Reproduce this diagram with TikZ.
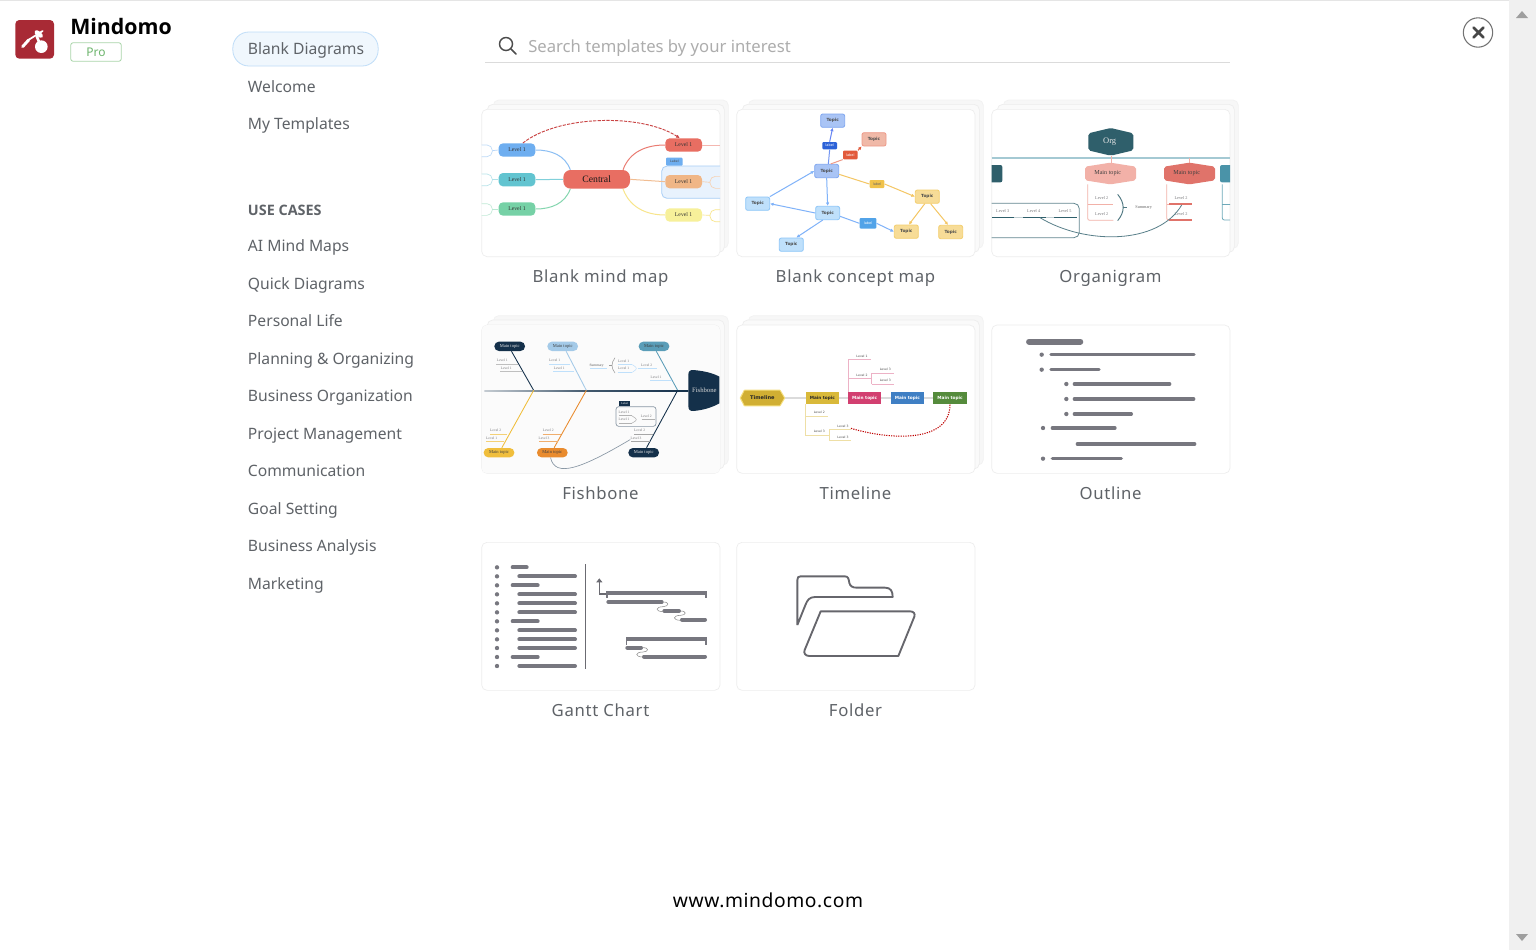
\documentclass[tikz,border=0pt]{standalone}
\usepackage{fontspec}
\setmainfont{Noto Sans}
\newfontfamily\headfont{Open Sans}
\newfontfamily\thumbserif{Liberation Serif}
\newfontfamily\thumbsans{DejaVu Sans}
\newfontfamily\cardfont[LetterSpace=4]{Noto Sans}
\newfontfamily\webfont[LetterSpace=3]{Noto Sans}
\newcommand{\tfnt}[1]{\fontsize{#1}{#1}\selectfont\thumbserif}
\newcommand{\sfnt}[1]{\fontsize{#1}{#1}\selectfont\thumbsans}
\usetikzlibrary{arrows.meta,calc}
\definecolor{txt}{HTML}{5F6368}
\definecolor{cardline}{HTML}{EDEDED}
\definecolor{bar}{HTML}{77777F}
\definecolor{mred}{HTML}{E86E62}
\definecolor{mblue}{HTML}{6EAEF0}
\definecolor{mteal}{HTML}{62C4D0}
\definecolor{mgreen}{HTML}{76D1A6}
\definecolor{mora}{HTML}{F0B686}
\definecolor{myel}{HTML}{F7F09A}
\definecolor{cb}{HTML}{A9C4F5}
\definecolor{cbd}{HTML}{7FA6F0}
\definecolor{cl}{HTML}{BFE0FB}
\definecolor{cld}{HTML}{8DC6F8}
\definecolor{cy}{HTML}{F7DC97}
\definecolor{cyd}{HTML}{F3CE6E}
\definecolor{cr}{HTML}{F0B9A8}
\definecolor{crd}{HTML}{EE9988}
\definecolor{orgd}{HTML}{2F5F6B}
\definecolor{orgp}{HTML}{F2B1A8}
\definecolor{orgr}{HTML}{E0736A}
\definecolor{orgb}{HTML}{4A93A8}
\definecolor{navy}{HTML}{14304A}
\definecolor{lvtxt}{HTML}{77777A}
\definecolor{tla}{HTML}{D1AF33}
\definecolor{tlb}{HTML}{D9B93A}
\definecolor{tlc}{HTML}{D23F70}
\definecolor{tld}{HTML}{3F7FC4}
\definecolor{tle}{HTML}{558B3C}
\definecolor{tlf}{HTML}{F5DF80}
\definecolor{logor}{HTML}{A82A35}
\definecolor{prog}{HTML}{A9D5A9}
\definecolor{prot}{HTML}{6DB56D}
\definecolor{actd}{HTML}{BFDDF8}
\definecolor{actf}{HTML}{F0F7FD}
\definecolor{dashr}{HTML}{C94444}
\definecolor{lab1}{HTML}{2C62D8}
\definecolor{lab2}{HTML}{E2593A}
\definecolor{lab3}{HTML}{F0C24A}
\definecolor{lab4}{HTML}{52A3E8}
\definecolor{fb2}{HTML}{A4CAE8}
\definecolor{fb3}{HTML}{5A9DB8}
\definecolor{fb4}{HTML}{F0BE3C}
\definecolor{fb5}{HTML}{E98B2E}
\definecolor{fold}{HTML}{66666C}
\tikzset{
  x=.75pt,y=-.75pt,
  z/.style 2 args={shift={(#1,#2)},x=.25pt,y=-.25pt},
  sidetext/.style={anchor=base west,inner sep=0pt,text=txt,font=\fontsize{11.75}{14}\selectfont},
  cardlabel/.style={inner sep=0pt,anchor=base,text=txt,font=\fontsize{12.55}{15}\selectfont\cardfont},
  cardface/.style={draw=cardline,fill=white,line width=.5pt,rounded corners=4pt},
  bx/.style n args={3}{minimum width=#1*.25pt,minimum height=#2*.25pt,inner sep=0pt,fill=#3},
  lv/.style={inner sep=0pt,text=lvtxt,font={\tfnt{3.2}}},
  pill/.style={rounded corners=3.2pt,text=black!80,font={\tfnt{4.3}}},
  topic/.style n args={2}{minimum width=18pt,minimum height=10pt,inner sep=0pt,fill=#1,draw=#2,line width=.6pt,rounded corners=1.5pt,text=black!70,font={\sfnt{3.2}\bfseries}},
  lab/.style n args={3}{bx={#1}{#2}{#3},rounded corners=.8pt,text=white,font={\sfnt{2.6}}},
  tip/.style={-{Latex[length=2.6pt,width=2.6pt]}},
  bb/.style={line width=2.5pt,draw=bar,line cap=round},
}
\newcommand{\stack}[2]{%
  \draw[cardface,draw=cardline!70,fill=white!97!black] (55,#1-28) rectangle (760,#2-25);
  \draw[cardface,fill=white!98!black] (37,#1-15) rectangle (748,#2-13);
  \draw[cardface] (20,#1) rectangle (735,#2);
}
\begin{document}
\begin{tikzpicture}
\fill[white] (0,0) rectangle (1536,950);
\useasboundingbox (0,0) rectangle (1536,950);
\fill[black!10] (0,0) rectangle (1510,1);
\fill[black!6] (1509,0) rectangle (1536,950);
\fill[black!38] (1516,18) -- (1522,11) -- (1528,18) -- cycle;
\fill[black!38] (1516,934) -- (1522,941) -- (1528,934) -- cycle;

% logo
\begin{scope}[z={0}{0}]
\fill[rounded corners=3pt,logor] (46,60) rectangle (162,176);
\fill[white] (124,140) circle (19);
\fill[white,rotate around={-40:(116,102)}] (116,102) ellipse (15 and 8);
\draw[white,line width=2.2pt,line cap=round] (68,140) -- (86,120);
\draw[white,line width=1.3pt,line cap=round] (85,120) -- (128,93);
\draw[white,line width=2pt] (110,108) -- (118,128);
\end{scope}
\node[anchor=base west,inner sep=0pt,font=\fontsize{16}{20}\selectfont\headfont\bfseries] (brand) at (70,34.5) {Mindomo};
\node[draw=prog,rounded corners=2pt,line width=.6pt,minimum width=38pt,minimum height=14pt,inner sep=0pt,text=prot,font=\fontsize{9}{10}\selectfont] (pro) at (96,52) {Pro};

% sidebar
\node[draw=actd,fill=actf,rounded corners=12pt,line width=.6pt,minimum width=109pt,minimum height=25.5pt,inner sep=0pt] (active) at (305.5,49) {};
\node[sidetext] (s1) at (247.7,54.8) {Blank Diagrams};
\node[sidetext] (s2) at (247.7,92.3) {Welcome};
\node[sidetext] (s3) at (247.7,129.8) {My Templates};
\node[sidetext,font=\fontsize{10.8}{14}\selectfont\headfont\bfseries] (s4) at (247.7,215.3) {USE CASES};
\node[sidetext] (s5) at (247.7,251.8) {AI Mind Maps};
\node[sidetext] (s6) at (247.7,289.3) {Quick Diagrams};
\node[sidetext] (s7) at (247.7,326.8) {Personal Life};
\node[sidetext] (s8) at (247.7,364.3) {Planning \& Organizing};
\node[sidetext] (s9) at (247.7,401.8) {Business Organization};
\node[sidetext] (s10) at (247.7,439.3) {Project Management};
\node[sidetext] (s11) at (247.7,476.8) {Communication};
\node[sidetext] (s12) at (247.7,514.3) {Goal Setting};
\node[sidetext] (s13) at (247.7,551.8) {Business Analysis};
\node[sidetext] (s14) at (247.7,589.3) {Marketing};

% search
\draw[black!70,line width=1.1pt] (506,44) circle (6.5);
\draw[black!70,line width=1.2pt,line cap=round] (511,49) -- (516,54);
\node[anchor=base west,inner sep=0pt,text=black!32,font=\fontsize{12.5}{15}\selectfont] (search) at (528,52) {Search templates by your interest};
\draw[black!14,line width=.6pt] (485,62.5) -- (1230,62.5);

% close
\node[circle,draw=black!55,fill=white,line width=.8pt,minimum size=22pt,inner sep=0pt] (close) at (1478,32.5) {};
\draw[black!72,line width=1.9pt,line cap=round] (1473.5,27.5) -- (1483.5,37.5) (1483.5,27.5) -- (1473.5,37.5);

% ---------- mind map
\begin{scope}[z={475}{95}]
\stack{43}{485}
\begin{scope}
\clip[rounded corners=4pt] (20,43) rectangle (735,485);
\draw[fill=mblue!16,draw=mblue!60,line width=.6pt,rounded corners=4pt] (560,213) rectangle (780,310);
\node[pill,bx={200}{56}{mred},rounded corners=5.5pt,font={\tfnt{7.3}},text=black!90] (mc) at (365,253) {Central};
\node[pill,bx={110}{40}{mblue}] (ml1) at (126,165) {Level 1};
\node[pill,bx={110}{40}{mteal}] (ml2) at (126,254) {Level 1};
\node[pill,bx={110}{40}{mgreen}] (ml3) at (126,342) {Level 1};
\node[pill,bx={110}{40}{mred}] (mr1) at (626,150) {Level 1};
\node[pill,bx={110}{40}{mora}] (mr2) at (626,260) {Level 1};
\node[pill,bx={110}{40}{myel}] (mr3) at (626,360) {Level 1};
\node[lab={50}{24}{mblue},text=black!70,font={\sfnt{2.4}}] (mlab) at (598,200) {Label};
\draw[mblue!80,line width=.75pt] (ml1.east) to[out=0,in=110] (mc.160);
\draw[mteal!80,line width=.75pt] (ml2.east) -- (mc.west);
\draw[mgreen!90,line width=.75pt] (ml3.east) to[out=0,in=-110] (mc.200);
\draw[mred!90,line width=.75pt] (mc.20) to[out=70,in=180] (mr1.west);
\draw[mora!90,line width=.75pt] (mc.east) -- (mr2.west);
\draw[myel!90!orange,line width=.75pt] (mc.-20) to[out=-70,in=180] (mr3.west);
\draw[mred!50,line width=.6pt] (mr1.east) -- (735,150);
\draw[mblue!45,fill=white,line width=.5pt,rounded corners=4pt] (-20,150) rectangle (52,185);
\draw[mteal!45,fill=white,line width=.5pt,rounded corners=4pt] (-20,237) rectangle (52,272);
\draw[mgreen!45,fill=white,line width=.5pt,rounded corners=4pt] (-20,326) rectangle (52,361);
\draw[mblue!50,line width=.5pt] (52,167) -- (ml1.west);
\draw[mteal!50,line width=.5pt] (52,254) -- (ml2.west);
\draw[mgreen!50,line width=.5pt] (52,342) -- (ml3.west);
\draw[mora!70,line width=.5pt] (mr2.east) -- (705,262);
\draw[mora!60,line width=.5pt,rounded corners=4pt] (790,244) -- (705,244) -- (705,280) -- (790,280);
\draw[myel!90!orange,line width=.5pt] (mr3.east) -- (705,361);
\draw[myel!90!orange,line width=.5pt,rounded corners=4pt] (790,344) -- (705,344) -- (705,380) -- (790,380);
\draw[tip,dash pattern=on 2.4pt off .9pt,draw=dashr,line width=.7pt] (ml1.50) .. controls (250,60) and (500,55) .. (mr1.120);
\end{scope}
\end{scope}
\node[cardlabel] (c1) at (600.5,282) {Blank mind map};

% ---------- concept map
\begin{scope}[z={730}{95}]
\stack{43}{485}
\node[topic={cb}{cbd}] (t1) at (308,77) {Topic};
\node[topic={cr}{crd}] (t2) at (432,133) {Topic};
\node[topic={cb}{cbd}] (t3) at (290,228) {Topic};
\node[topic={cy}{cyd}] (t4) at (592,305) {Topic};
\node[topic={cl}{cld}] (t5) at (83,326) {Topic};
\node[topic={cl}{cld}] (t6) at (293,354) {Topic};
\node[topic={cy}{cyd}] (t7) at (529,410) {Topic};
\node[topic={cy}{cyd}] (t8) at (662,411) {Topic};
\node[topic={cl}{cld}] (t9) at (184,449) {Topic};
\node[lab={44}{22}{lab1}] (l1) at (299,152) {label};
\node[lab={44}{26}{lab2}] (l2) at (361,180) {label};
\node[lab={44}{24}{lab3},text=black!60] (l3) at (441,267) {label};
\node[lab={50}{32}{lab4}] (l4) at (414,385) {label};
\begin{scope}[line width=.75pt]
\draw[draw=cbd!90!blue] (t3.north) ++(5,0) -- (l1.south);
\draw[tip,draw=cbd!80!blue] (l1.north) -- (t1.south);
\draw[draw=crd] (t3.60) -- (l2.south west);
\draw[tip,draw=lab2] (l2.north east) -- (t2.south west);
\draw[draw=cyd!90!orange] (t3.-15) -- (l3.west);
\draw[tip,draw=cyd!90!orange] (l3.east) -- (t4.west);
\draw[tip,draw=cld!90!blue] (t3.south) -- (t6.north);
\draw[tip,draw=cld!90!blue] (t5.30) -- (t3.west);
\draw[tip,draw=cld!90!blue] (t6.west) -- (t5.east);
\draw[draw=cld!90!blue] (t6.-15) -- (l4.west);
\draw[tip,draw=cld!90!blue] (l4.east) -- (t7.west);
\draw[tip,draw=cld!90!blue] (t6.-125) -- (t9.55);
\draw[tip,draw=cyd!90!orange] (t4.-110) -- (t7.70);
\draw[tip,draw=cyd!90!orange] (t4.-65) -- (t8.110);
\end{scope}
\end{scope}
\node[cardlabel] (c2) at (855.5,282) {Blank concept map};

% ---------- organigram
\begin{scope}[z={985}{95}]
\stack{43}{485}
\begin{scope}
\clip[rounded corners=4pt] (20,43) rectangle (735,485);
\draw[draw=orgb!50,line width=1.3pt] (20,188) -- (735,188);
\draw[orgp,line width=.4pt] (378,182) -- (378,203);
\draw[orgp,line width=.4pt] (613,188) -- (613,203);
\fill[orgd,rounded corners=1.5pt] (310,115) -- (377,99) -- (445,115) -- (445,166) -- (377,182) -- (310,166) -- cycle;
\node[inner sep=0pt,text=white!90!black,font={\tfnt{6.4}}] (orgn) at (374,141) {Org};
\fill[orgp,rounded corners=1.5pt] (300,215) -- (376,203) -- (453,215) -- (453,256) -- (376,268) -- (300,256) -- cycle;
\node[inner sep=0pt,text=black!75,font={\tfnt{4.6}}] (om1) at (368,234) {Main topic};
\fill[orgr,rounded corners=1.5pt] (537,215) -- (613,203) -- (690,215) -- (690,256) -- (613,268) -- (537,256) -- cycle;
\node[inner sep=0pt,text=black!75,font={\tfnt{4.6}}] (om2) at (605,234) {Main topic};
\fill[orgd,rounded corners=1.5pt] (-20,210) rectangle (52,262);
\fill[orgb,rounded corners=1.5pt] (705,210) rectangle (790,262);
\draw[orgp,line width=.6pt,rounded corners=1.5pt] (308,268) -- (308,376) -- (385,376);
\draw[orgp,line width=.6pt] (308,327) -- (385,327);
\node[lv] (ol1) at (350,309) {Level 2};
\node[lv] (ol2) at (350,356) {Level 2};
\draw[orgp,line width=.6pt,rounded corners=1.5pt] (545,268) -- (545,375) -- (560,375);
\draw[orgp,line width=.6pt] (545,327) -- (560,327);
\draw[orgr,line width=1.1pt] (552,327) -- (622,327) (552,375) -- (622,375);
\node[lv] (ol3) at (588,309) {Level 2};
\node[lv] (ol4) at (588,356) {Level 2};
\draw[orgb!80,line width=.6pt,rounded corners=1.5pt] (712,268) -- (712,375) -- (740,375);
\draw[orgb!80,line width=.6pt] (712,327) -- (740,327);
\draw[orgd!75,line width=.6pt,rounded corners=4pt] (-20,325) rectangle (283,428);
\draw[orgd!30,line width=.4pt] (20,367) -- (275,367);
\draw[orgd,line width=1.1pt] (22,367) -- (88,367) (115,367) -- (182,367) (208,367) -- (275,367);
\node[lv] (ol5) at (53,348) {Level 3};
\node[lv] (ol6) at (146,348) {Level 4};
\node[lv] (ol7) at (240,348) {Level 5};
\draw[orgd!85,line width=.7pt] (398,298) .. controls (420,325) and (420,350) .. (398,377);
\draw[orgd!85,line width=.7pt] (413,337) -- (425,337);
\node[lv,text=black!60] (osum) at (476,337) {Summary};
\draw[orgd!80,line width=.6pt] (165,368) .. controls (300,450) and (520,450) .. (590,330);
\end{scope}
\end{scope}
\node[cardlabel] (c3) at (1110.5,282) {Organigram};

% ---------- fishbone
\begin{scope}[z={475}{315}]
\stack{30}{475}
\begin{scope}
\clip[rounded corners=4pt] (20,30) rectangle (735,475);
\fill[black!1.5] (20,30) rectangle (735,475);
\shade[left color=navy!25,right color=navy,middle color=navy!80] (28,225) rectangle (640,228);
\fill[navy] (640,180) .. controls (640,168) and (645,165) .. (655,165) .. controls (690,168) and (715,175) .. (733,185) -- (733,265) .. controls (715,275) and (690,285) .. (655,288) .. controls (645,288) and (640,285) .. (640,272) -- cycle;
\node[inner sep=0pt,text=white!85!black,font={\tfnt{5}}] (fh) at (688,225) {Fishbone};
\node[pill,bx={92}{28}{navy},rounded corners=3.4pt,text=white!90!black,font={\tfnt{3.4}}] (f1) at (104,94) {Main topic};
\node[pill,bx={92}{28}{fb2},rounded corners=3.4pt,text=black!75,font={\tfnt{3.4}}] (f2) at (263,94) {Main topic};
\node[pill,bx={92}{28}{fb3},rounded corners=3.4pt,text=black!75,font={\tfnt{3.4}}] (f3) at (537,94) {Main topic};
\node[pill,bx={92}{28}{fb4},rounded corners=3.4pt,text=black!75,font={\tfnt{3.4}}] (f4) at (72,413) {Main topic};
\node[pill,bx={92}{28}{fb5},rounded corners=3.4pt,text=black!75,font={\tfnt{3.4}}] (f5) at (232,413) {Main topic};
\node[pill,bx={92}{28}{navy},rounded corners=3.4pt,text=white!90!black,font={\tfnt{3.4}}] (f6) at (506,413) {Main topic};
\coordinate (j1) at (176,226); \coordinate (j2) at (334,226); \coordinate (j3) at (608,226);
\draw[navy,line width=.65pt] (f1.-70) -- (j1);
\draw[fb2,line width=.65pt] (f2.-55) -- (j2);
\draw[fb3,line width=.65pt] (f3.-65) -- (j3);
\draw[fb4,line width=.65pt] (f4.60) -- (j1);
\draw[fb5,line width=.65pt] (f5.70) -- (j2);
\draw[navy,line width=.65pt] (f6.60) -- (j3);
\begin{scope}[line width=.4pt,draw=black!25]
\draw (63,147) -- (130,147) (76,169) -- (140,169);
\draw[draw=cl] (222,147) -- (285,147) (235,169) -- (298,169);
\draw[draw=cl] (345,160) -- (395,160) (428,149) -- (472,149) (428,172) -- (472,172);
\draw[draw=cl,rounded corners=2pt] (472,149) -- (488,160) -- (472,172);
\draw[draw=cl] (488,160) -- (545,160) (525,197) -- (590,197);
\draw[draw=black!35] (478,357) -- (535,357) (468,379) -- (525,379);
\draw[draw=fb4!70] (45,357) -- (97,357) (33,379) -- (88,379);
\draw[draw=fb5!70] (203,357) -- (258,357) (192,379) -- (248,379);
\draw[draw=black!40] (403,150) -- (412,150);
\draw[draw=black!40] (420,128) .. controls (408,145) and (408,158) .. (420,174);
\draw[draw=navy!50,line width=.5pt,rounded corners=2pt] (423,275) rectangle (543,334);
\draw[draw=black!30] (432,302) -- (470,302) (432,325) -- (470,325) (500,314) -- (540,314);
\draw[draw=black!30,rounded corners=2pt] (470,302) -- (488,314) -- (470,325);
\end{scope}
\foreach \nm/\xx/\yy/\tt in {a1/82/137/Level 1,a2/94/159/Level 1,a3/239/137/Level 1,a4/253/159/Level 1,a5/446/139/Level 1,a6/446/161/Level 1,a7/515/151/Level 2,a8/543/186/Level 1,a9/447/292/Level 1,a10/447/314/Level 1,a11/514/303/Level 2,a12/494/347/Level 2,a13/483/369/Level 3,a14/62/347/Level 2,a15/50/369/Level 1,a16/220/347/Level 2,a17/207/369/Level 3}
  {\node[lv,font={\tfnt{2.7}}] (\nm) at (\xx,\yy) {\tt};}
\node[lv,font={\tfnt{2.7}},text=black!65] (fsum) at (365,151) {Summary};
\node[bx={32}{16}{navy},text=white,font={\tfnt{2.2}}] (flab) at (449,266) {Label};
\draw[draw=navy!50,line width=.5pt] (f5.-110) .. controls (240,490) and (320,460) .. (a13.south west);
\end{scope}
\end{scope}
\node[cardlabel] (c4) at (600.5,499) {Fishbone};

% ---------- timeline
\begin{scope}[z={730}{315}]
\stack{30}{475}
\draw[draw=black!14,line width=1.1pt] (165,249) -- (612,249);
\fill[tlf,rounded corners=.5pt] (29,249) -- (42,224) -- (151,224) -- (166,249) -- (151,274) -- (42,274) -- cycle;
\fill[tla] (33,249) -- (44,227) -- (149,227) -- (162,249) -- (149,271) -- (44,271) -- cycle;
\node[inner sep=0pt,text=black!85,font={\sfnt{3.8}\bfseries}] (tl) at (97,249) {Timeline};
\node[bx={100}{36}{tlb},text=black!85,font={\sfnt{3.2}\bfseries}] (tm1) at (277,249) {Main topic};
\node[bx={100}{36}{tlc},text=white,font={\sfnt{3.2}\bfseries}] (tm2) at (404,249) {Main topic};
\node[bx={100}{36}{tld},text=white,font={\sfnt{3.2}\bfseries}] (tm3) at (532,249) {Main topic};
\node[bx={100}{36}{tle},text=white,font={\sfnt{3.2}\bfseries}] (tm4) at (660,249) {Main topic};
\begin{scope}[line width=.5pt]
\draw[draw=tlc!40] (355,231) -- (355,133) -- (422,133) (355,190) -- (425,190) (425,175) -- (425,207) (425,175) -- (492,175) (425,207) -- (492,207);
\draw[draw=tlb!45] (227,267) -- (227,360) -- (298,360) (227,304) -- (295,304) (298,343) -- (298,377) (298,343) -- (363,343) (298,377) -- (363,377);
\end{scope}
\coordinate (dot) at (363,340);
\foreach \nm/\xx/\yy/\tt in {b1/396/123/Level 1,b2/396/181/Level 2,b3/466/163/Level 3,b4/466/197/Level 3,b5/268/293/Level 2,b6/268/350/Level 3,b7/339/333/Level 3,b8/339/367/Level 3}
  {\node[inner sep=0pt,text=black!70,font={\sfnt{2.3}}] (\nm) at (\xx,\yy) {\tt};}
\draw[draw=red!75!black,line width=.8pt,dash pattern=on .9pt off .9pt] (dot) .. controls (480,375) and (660,385) .. (tm4.south);
\end{scope}
\node[cardlabel] (c5) at (855.5,499) {Timeline};

% ---------- outline
\begin{scope}[z={985}{315}]
\draw[cardface] (20,30) rectangle (735,475);
\draw[bb,line width=4.4pt] (132,80) -- (286,80);
\foreach \bx/\by/\sx/\ex in {170/119/198/627,170/164/198/342,244/207/268/554,244/252/268/626,244/297/268/439,174/339/202/390,174/431/202/409}
 {\fill[bar] (\bx,\by) circle (6.5); \draw[bb] (\sx,\by) -- (\ex,\by);}
\draw[bb] (277,387) -- (629,387);
\end{scope}
\node[cardlabel] (c6) at (1110.5,499) {Outline};

% ---------- gantt
\begin{scope}[z={475}{535}]
\draw[cardface] (20,22) rectangle (735,466);
\foreach \by in {97,124,151,178,205,232,259,286,313,339,366,393}
 {\fill[bar] (66,\by) circle (6.5);}
\foreach \by/\sx/\ex in {97/113/155,124/133/300,151/113/188,178/133/300,205/133/300,232/133/300,259/113/188,286/133/300,313/133/300,339/133/300,366/113/188,393/133/300}
 {\draw[bb,line width=3pt] (\sx,\by) -- (\ex,\by);}
\draw[bar!90!black,line width=1.1pt] (332,88) -- (332,402);
\draw[bar!90!black,line width=.9pt,-{Triangle[length=3pt,width=4.5pt]}] (396,177) -- (373,177) -- (373,130);
\fill[bar] (394,168) rectangle (695,180); \fill[bar] (394,180) rectangle (398,189); \fill[bar] (691,180) rectangle (695,189);
\fill[bar] (452,307) rectangle (695,319); \fill[bar] (452,319) rectangle (456,329); \fill[bar] (691,319) rectangle (695,329);
\draw[bb,line width=3pt] (400,201) -- (560,201) (568,228) -- (612,228) (621,254) -- (690,254) (457,338) -- (498,338) (507,365) -- (690,365);
\draw[black!45,line width=.4pt] (563,201) .. controls (585,200) and (582,214) .. (565,215) .. controls (540,215) and (540,230) .. (565,230);
\draw[black!45,line width=.4pt] (615,228) .. controls (637,227) and (634,241) .. (617,241) .. controls (592,241) and (592,256) .. (617,256);
\draw[black!45,line width=.4pt] (502,338) .. controls (524,337) and (521,351) .. (504,351) .. controls (479,351) and (479,366) .. (504,366);
\end{scope}
\node[cardlabel] (c7) at (600.5,716) {Gantt Chart};

% ---------- folder
\begin{scope}[z={730}{535}]
\draw[cardface] (20,22) rectangle (735,466);
\begin{scope}[draw=fold,line width=1.4pt,line join=round]
\draw (202,270) -- (202,135) .. controls (202,127) and (205,124) .. (212,124) -- (345,124) .. controls (356,124) and (356,134) .. (358,144) .. controls (361,154) and (368,158) .. (380,158) -- (465,158) .. controls (482,158) and (488,168) .. (488,186) -- (255,186) .. controls (238,186) and (232,196) .. (227,208) -- (202,270);
\draw (272,229) -- (540,229) .. controls (551,229) and (556,236) .. (553,245) -- (505,363) -- (238,363) .. controls (226,363) and (220,354) .. (224,345) -- cycle;
\end{scope}
\end{scope}
\node[cardlabel] (c8) at (855.5,716) {Folder};

% footer
\node[anchor=base,inner sep=0pt,text=black,font=\fontsize{14.45}{17}\selectfont\webfont] (web) at (768,907) {www.mindomo.com};
\end{tikzpicture}
\end{document}
